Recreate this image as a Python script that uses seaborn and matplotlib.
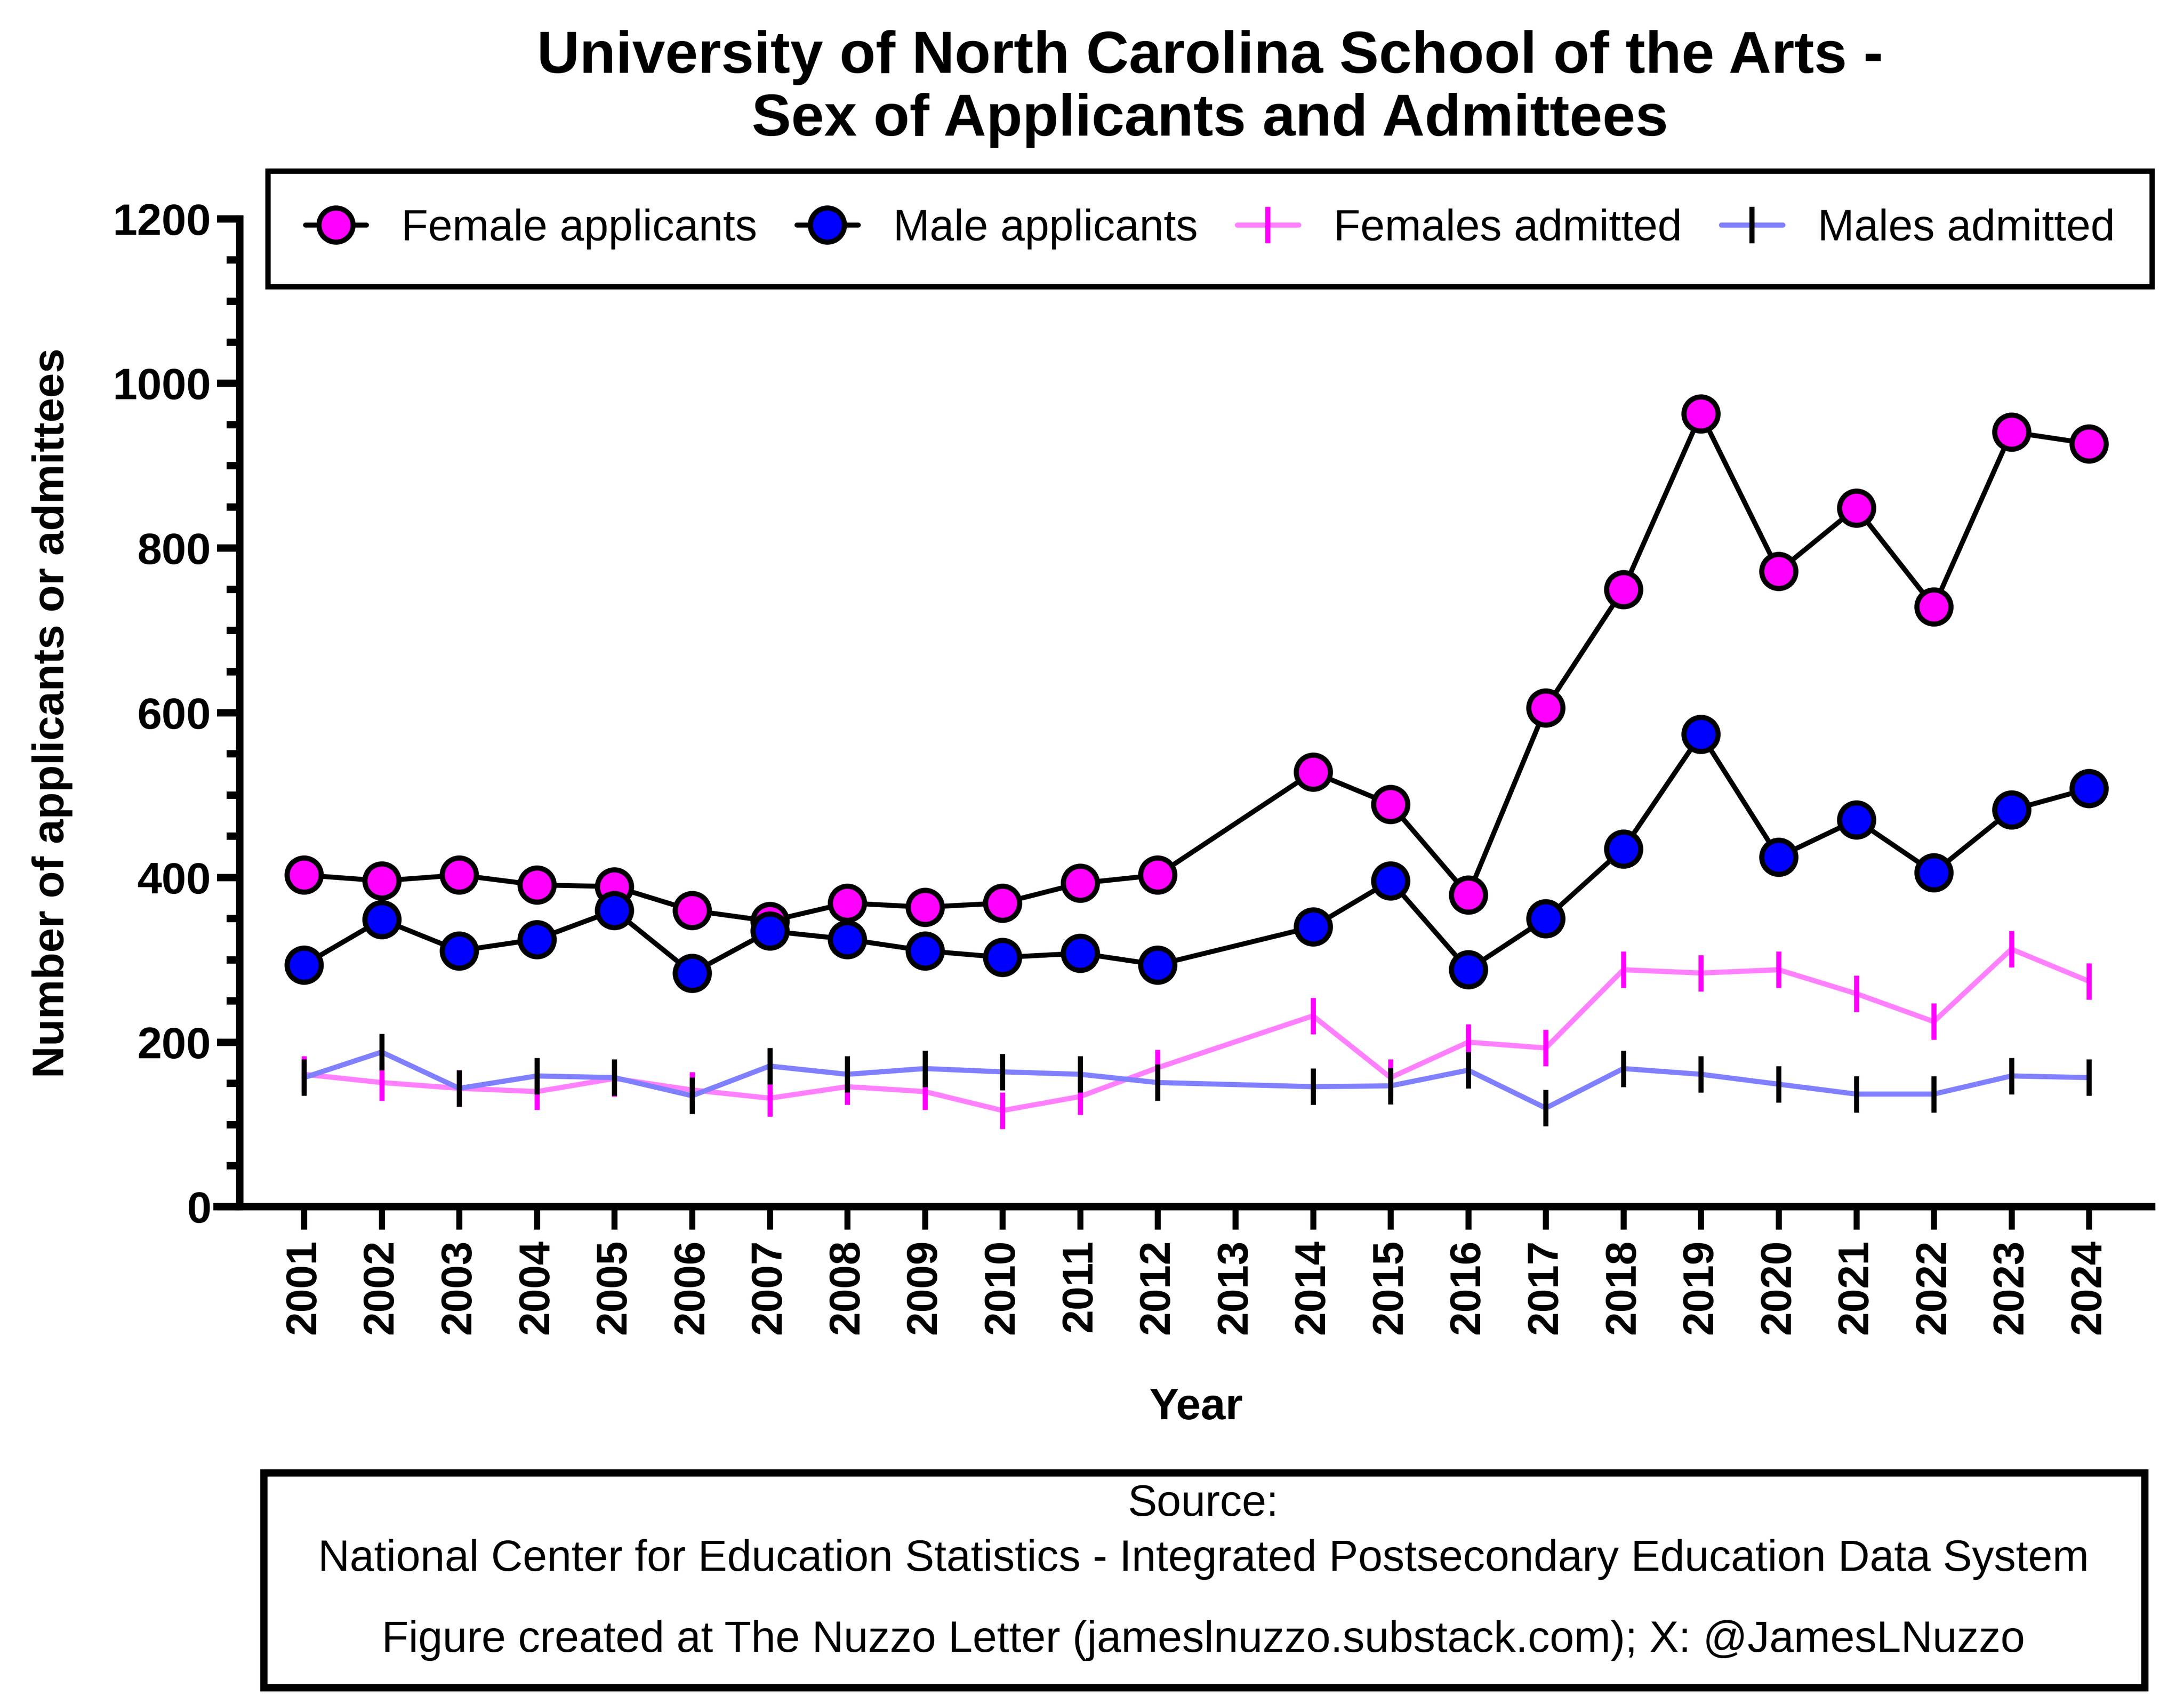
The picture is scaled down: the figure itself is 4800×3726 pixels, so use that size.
import numpy as np
import pandas as pd
import matplotlib.pyplot as plt
import seaborn as sns
from matplotlib.patches import Rectangle
from matplotlib.ticker import MultipleLocator


YEARS = [str(y) for y in range(2001, 2025)]

# 2013 has no data
FEMALE_APPLICANTS = [403, 396, 403, 391, 389, 360, 347, 369, 364, 369, 393, 403, None,
                     528, 489, 379, 606, 750, 963, 772, 849, 729, 941, 927]
MALE_APPLICANTS = [294, 349, 311, 325, 360, 284, 335, 325, 311, 303, 308, 294, None,
                   340, 396, 288, 350, 435, 574, 425, 470, 406, 482, 508]
FEMALES_ADMITTED = [161, 151, 144, 140, 156, 142, 132, 146, 140, 117, 134, 169, None,
                    232, 157, 200, 193, 288, 284, 288, 259, 225, 313, 274]
MALES_ADMITTED = [157, 188, 144, 159, 157, 135, 171, 161, 168, 164, 161, 151, None,
                  146, 147, 166, 120, 168, 161, 149, 137, 137, 159, 157]


def series_frame(values):
    df = pd.DataFrame({'pos': np.arange(len(YEARS)), 'value': values})
    return df.dropna()


def make_chart():
    sns.set_style('ticks')
    plt.rcParams['font.family'] = ['Liberation Sans', 'DejaVu Sans']
    for key in ['text.color', 'axes.labelcolor', 'xtick.color', 'ytick.color',
                'axes.edgecolor']:
        plt.rcParams[key] = 'black'

    fig = plt.figure(figsize=(16, 12.42), dpi=300)
    ax = fig.add_axes([0.1097, 0.2884, 0.8756, 0.5826])

    sns.lineplot(data=series_frame(FEMALES_ADMITTED), x='pos', y='value', ax=ax,
                 estimator=None, color='#FF80FF', linewidth=2.7, marker='|',
                 markersize=19, markeredgewidth=2.7, markeredgecolor='#FF00FF',
                 label='Females admitted')
    sns.lineplot(data=series_frame(MALES_ADMITTED), x='pos', y='value', ax=ax,
                 estimator=None, color='#8080FF', linewidth=2.7, marker='|',
                 markersize=19, markeredgewidth=2.7, markeredgecolor='black',
                 label='Males admitted')
    sns.lineplot(data=series_frame(FEMALE_APPLICANTS), x='pos', y='value', ax=ax,
                 estimator=None, color='black', linewidth=2.6, marker='o',
                 markersize=18, markerfacecolor='#FF00FF', markeredgecolor='black',
                 markeredgewidth=2.7, label='Female applicants')
    sns.lineplot(data=series_frame(MALE_APPLICANTS), x='pos', y='value', ax=ax,
                 estimator=None, color='black', linewidth=2.6, marker='o',
                 markersize=18, markerfacecolor='#0000FF', markeredgecolor='black',
                 markeredgewidth=2.7, label='Male applicants')

    ax.set_xlim(-0.83, 23.81)
    ax.set_ylim(0, 1200)
    ax.set_xticks(np.arange(len(YEARS)))
    ax.set_xticklabels(YEARS, rotation=90, fontsize=22.5, fontweight='bold')
    ax.yaxis.set_major_locator(MultipleLocator(200))
    ax.yaxis.set_minor_locator(MultipleLocator(50))
    for lab in ax.get_yticklabels():
        lab.set_fontsize(23.3)
        lab.set_fontweight('bold')

    sns.despine(ax=ax)
    for side in ['left', 'bottom']:
        ax.spines[side].set_linewidth(3.9)
    ax.spines['bottom'].set_bounds(-1.12, 23.81)
    ax.tick_params(axis='y', which='major', length=12, width=3.9, pad=3)
    ax.tick_params(axis='y', which='minor', length=7, width=3.9)
    ax.tick_params(axis='x', which='major', length=12, width=3.2, pad=5)

    ax.set_xlabel('Year', fontsize=23.4, fontweight='bold', labelpad=28)
    ax.set_ylabel('Number of applicants or admittees', fontsize=23.4,
                  fontweight='bold', labelpad=21)

    ax.get_legend().remove()
    handles, labels = ax.get_legend_handles_labels()
    order = [2, 3, 0, 1]
    leg = fig.legend([handles[i] for i in order], [labels[i] for i in order],
                     loc='center', bbox_to_anchor=(0.554, 0.865), ncol=4,
                     fontsize=23.1, frameon=True, fancybox=False, framealpha=1,
                     handlelength=1.4, handletextpad=0.8, columnspacing=0.9,
                     borderpad=0.85)
    leg.get_frame().set_edgecolor('black')
    leg.get_frame().set_linewidth(2.8)

    fig.text(0.554, 0.966, 'University of North Carolina School of the Arts -',
             ha='center', va='center', fontsize=31.2, fontweight='bold')
    fig.text(0.554, 0.929, 'Sex of Applicants and Admittees',
             ha='center', va='center', fontsize=31.2, fontweight='bold')

    fig.patches.append(Rectangle((0.1208, 0.0048), 0.8612, 0.1267,
                                 transform=fig.transFigure, fill=False,
                                 edgecolor='black', linewidth=3.8))
    fig.text(0.551, 0.113, 'Source:', ha='center', va='center', fontsize=23.1)
    fig.text(0.551, 0.0805,
             'National Center for Education Statistics - Integrated Postsecondary Education Data System',
             ha='center', va='center', fontsize=23.1)
    fig.text(0.551, 0.0327,
             'Figure created at The Nuzzo Letter (jameslnuzzo.substack.com); X: @JamesLNuzzo',
             ha='center', va='center', fontsize=23.1)

    fig.savefig('out.png', dpi=300)


if __name__ == '__main__':
    make_chart()
